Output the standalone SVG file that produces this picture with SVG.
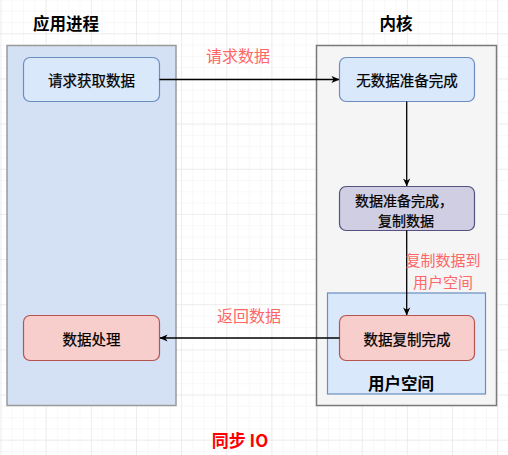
<svg xmlns="http://www.w3.org/2000/svg" width="508" height="455" viewBox="0 0 508 455">
  <defs>
    <pattern id="minor" patternUnits="userSpaceOnUse" x="0.5" y="-11.85" width="11.29" height="11.29">
      <path d="M0,0 H11.29 M0,0 V11.29" fill="none" stroke="#f1f1f1" stroke-width="1"/>
    </pattern>
    <pattern id="major" patternUnits="userSpaceOnUse" x="0.5" y="-11.85" width="45.15" height="45.15">
      <path d="M0,0 H45.15 M0,0 V45.15" fill="none" stroke="#e2e2e2" stroke-width="1"/>
    </pattern>
    <marker id="arr" viewBox="0 0 10 10" refX="9.5" refY="5" markerWidth="8" markerHeight="8" markerUnits="userSpaceOnUse" orient="auto">
      <path d="M0,0.5 L10,5 L0,9.5 L2.8,5 Z" fill="#000"/>
    </marker>
    <style>
      text { font-family: "Noto Sans CJK SC", "Noto Sans", sans-serif; text-anchor: middle; dominant-baseline: central; }
      .title { font-size: 16.5px; font-weight: bold; fill: #000; }
      .node { font-size: 14.5px; fill: #000; stroke: #000; stroke-width: 0.25; }
      .node2 { font-size: 14px; fill: #000; stroke: #000; stroke-width: 0.25; }
      .lbl { font-size: 16px; fill: #ff6666; }
      .lbl2 { font-size: 15px; fill: #ff6666; }
      .blue { fill: #dae8fc; stroke: #6c8ebf; stroke-width: 1.2; }
      .purple { fill: #d0cee2; stroke: #56517e; stroke-width: 1.2; }
      .red { fill: #f8cecc; stroke: #b85450; stroke-width: 1.2; }
      .conn { fill: none; stroke: #000; stroke-width: 1.3; marker-end: url(#arr); }
    </style>
  </defs>
  <rect width="508" height="455" fill="#fff"/>
  <rect width="508" height="455" fill="url(#minor)"/>
  <rect width="508" height="455" fill="url(#major)"/>

  <g id="app-process">
    <rect x="7" y="45.5" width="169" height="360" fill="#d4e1f5" stroke="#9a9a9a" stroke-width="1.5"/>
    <text class="title" x="66" y="23">应用进程</text>
  </g>
  <g id="kernel">
    <rect x="316.5" y="45.5" width="180" height="360" fill="#f5f5f5" stroke="#7a7a7a" stroke-width="1.5"/>
    <text class="title" x="396" y="23">内核</text>
  </g>
  <g id="user-space">
    <rect x="327.5" y="293" width="158" height="101" fill="#dae8fc" stroke="#6c8ebf" stroke-width="1.2"/>
    <text class="title" x="401" y="383">用户空间</text>
  </g>
  <g id="request-data">
    <rect class="blue" x="23.5" y="57.5" width="136" height="44" rx="6.6"/>
    <text class="node" x="91.5" y="79.5">请求获取数据</text>
  </g>
  <g id="no-data-ready">
    <rect class="blue" x="339.5" y="57.5" width="135" height="44" rx="6.6"/>
    <text class="node" x="407" y="79.5">无数据准备完成</text>
  </g>
  <g id="data-ready-copy">
    <rect class="purple" x="339.5" y="186.5" width="135" height="44" rx="6.6"/>
    <text class="node2"><tspan x="404" y="199.5">数据准备完成，</tspan><tspan x="406" y="220">复制数据</tspan></text>
  </g>
  <g id="copy-done">
    <rect class="red" x="339.5" y="315.5" width="135" height="45" rx="6.6"/>
    <text class="node" x="407" y="338">数据复制完成</text>
  </g>
  <g id="process-data">
    <rect class="red" x="23.5" y="315.5" width="136" height="45" rx="6.6"/>
    <text class="node" x="91.5" y="338">数据处理</text>
  </g>

  <g id="connectors">
    <path class="conn" d="M159.5,79.5 H339"/>
    <path class="conn" d="M406.7,101.5 V186"/>
    <path class="conn" d="M406.7,230.5 V315"/>
    <path class="conn" d="M339.5,338 H160"/>
    <text class="lbl" x="238" y="55">请求数据</text>
    <text class="lbl2"><tspan x="443" y="259">复制数据到</tspan><tspan x="443" y="281">用户空间</tspan></text>
    <text class="lbl" x="249" y="315">返回数据</text>
  </g>

  <text x="240" y="439" style="font-size:17px;font-weight:bold;fill:#ff0000">同步 IO</text>
</svg>
